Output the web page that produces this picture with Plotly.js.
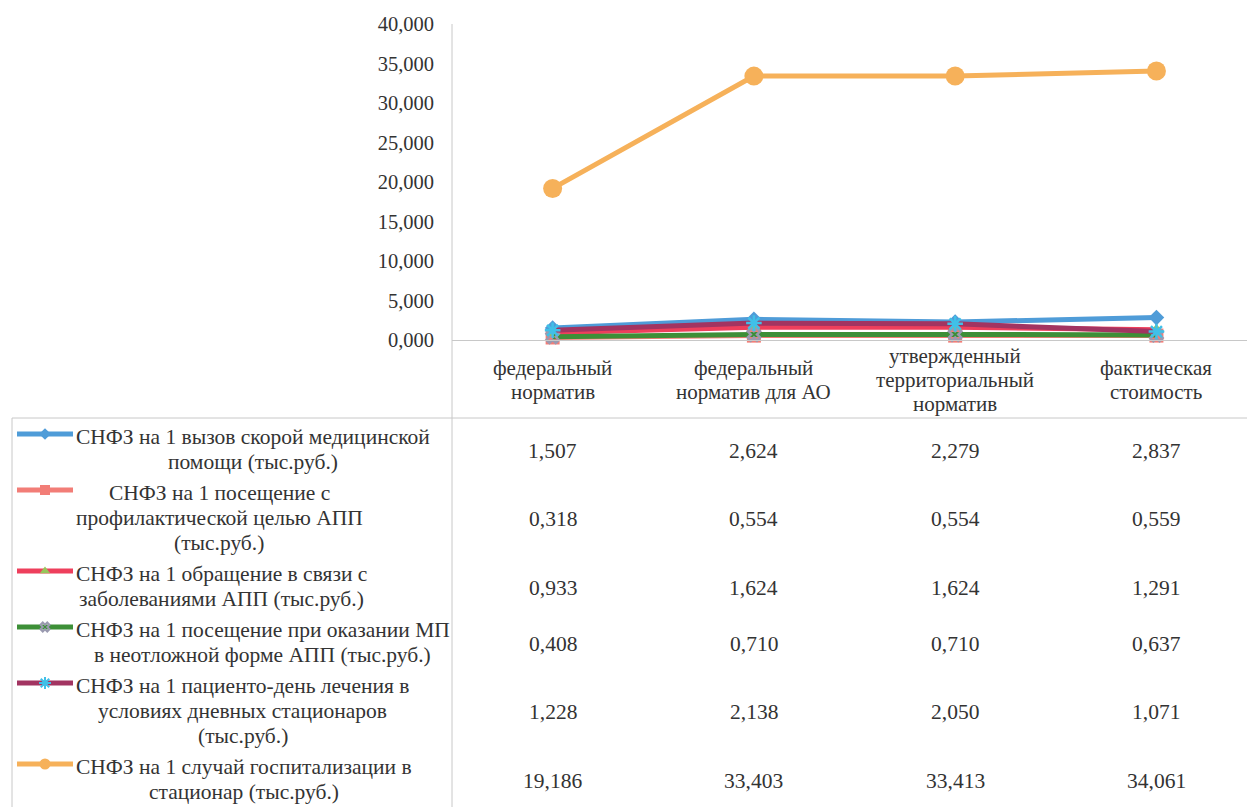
<!DOCTYPE html>
<html><head><meta charset="utf-8">
<script src="https://cdn.plot.ly/plotly-3.0.1.min.js"></script>
<style>html,body{margin:0;padding:0;background:#fff}</style>
</head><body><div id="chart" style="width:1247px;height:807px"></div>
<script>
// ---- data ----
const categories = ["федеральный<br>норматив", "федеральный<br>норматив для АО", "утвержденный<br>территориальный<br>норматив", "фактическая<br>стоимость"];
const seriesLabels = [
  "СНФЗ на 1 вызов скорой медицинской<br>помощи (тыс.руб.)",
  "СНФЗ на 1 посещение с<br>профилактической целью АПП<br>(тыс.руб.)",
  "СНФЗ на 1 обращение в связи с<br>заболеваниями АПП (тыс.руб.)",
  "СНФЗ на 1 посещение при оказании МП<br>в неотложной форме АПП (тыс.руб.)",
  "СНФЗ на 1 пациенто-день лечения в<br>условиях дневных стационаров<br>(тыс.руб.)",
  "СНФЗ на 1 случай госпитализации в<br>стационар (тыс.руб.)"
];
const ambulance   = [1.507, 2.624, 2.279, 2.837];
const preventive  = [0.318, 0.554, 0.554, 0.559];
const disease     = [0.933, 1.624, 1.624, 1.291];
const urgent      = [0.408, 0.710, 0.710, 0.637];
const dayHospital = [1.228, 2.138, 2.050, 1.071];
const hospital    = [19.186, 33.403, 33.413, 34.061];
const yTickValues = [0, 5, 10, 15, 20, 25, 30, 35, 40];

// ---- styles ----
const allSeries = [ambulance, preventive, disease, urgent, dayHospital, hospital];
const styles = [
  {line: "#4F9CD8", sym: "diamond", mcol: "#4F9CD8", size: 12, ksize: 9, open: false},
  {line: "#F27D77", sym: "square", mcol: "#F27D77", size: 14, ksize: 10, open: false},
  {line: "#EE3F5C", sym: "triangle-up", mcol: "#96C65A", size: 12, ksize: 9, open: false},
  {line: "#3D8F37", sym: "x-open", mcol: "#9A9AB0", size: 11, ksize: 8, open: true},
  {line: "#A23461", sym: "asterisk-open", mcol: "#40C0E8", size: 13, ksize: 10, open: true},
  {line: "#F6B15A", sym: "circle", mcol: "#F6B15A", size: 19, ksize: 11, open: false}
];
const FONT = "Liberation Serif";
const TXT = "#333333";
const GRID = "#C8C8C8";
const W = 1247, H = 807;
const plotLeft = 452, plotTop = 24, plotBottom = 340, tableTop = 418;
const lineStep = 25, rowPad = 6, firstCenter = 449.5;
const catCenter = 380, catStep = 24;
const LABEL_SIZE = 21.5, CAT_SIZE = 21, VAL_SIZE = 21.5, TICK_SIZE = 20.5;

function fmt(v) { return v.toFixed(3).replace(".", ","); }
const ctx = document.createElement("canvas").getContext("2d");
function textWidth(t, size) { ctx.font = size + "px '" + FONT + "'"; return ctx.measureText(t).width; }

const traces = [];
allSeries.forEach((vals, i) => {
  const s = styles[i];
  traces.push({
    type: "scatter", mode: "lines+markers", x: categories, y: vals,
    xaxis: "x", yaxis: "y", cliponaxis: false, showlegend: false, hoverinfo: "skip",
    line: {color: s.line, width: 5},
    marker: s.open ? {symbol: s.sym, size: s.size, color: s.mcol, line: {color: s.mcol, width: 2.5}}
                   : {symbol: s.sym, size: s.size, color: s.mcol, line: {width: 0}}
  });
});

const nLines = seriesLabels.map(t => t.split("<br>").length);
const centers = [];
nLines.forEach((n, i) => {
  if (i === 0) centers.push(firstCenter);
  else centers.push(centers[i - 1] + ((nLines[i - 1] * lineStep + rowPad) + (n * lineStep + rowPad)) / 2);
});

const annotations = [];
const shapes = [];
function txt(xref, x, y, text, size, xanchor) {
  annotations.push({xref: xref, yref: "y2", x: x, y: y, text: text, showarrow: false,
    xanchor: xanchor || "center", yanchor: "middle", font: {family: FONT, size: size, color: TXT}});
}
categories.forEach(c => {
  const parts = c.split("<br>");
  parts.forEach((p, k) => txt("x", c, catCenter + (k - (parts.length - 1) / 2) * catStep, p, CAT_SIZE));
});
seriesLabels.forEach((lab, i) => {
  const cy = centers[i];
  const parts = lab.split("<br>");
  const maxW = Math.max(...parts.map(p => textWidth(p, LABEL_SIZE)));
  const blockCenter = 76 + maxW / 2;
  parts.forEach((p, k) => txt("x2", blockCenter, cy + (k - (parts.length - 1) / 2) * lineStep, p, LABEL_SIZE));
  allSeries[i].forEach((v, j) => txt("x", categories[j], cy + 1, fmt(v), VAL_SIZE));
  const ky = cy - (nLines[i] - 1) * lineStep / 2 - 3;
  shapes.push({type: "line", xref: "x2", yref: "y2", x0: 17, x1: 73, y0: ky, y1: ky, layer: "below",
    line: {color: styles[i].line, width: 5}});
  const s = styles[i];
  traces.push({type: "scatter", mode: "markers", x: [45], y: [ky], xaxis: "x2", yaxis: "y2",
    cliponaxis: false, showlegend: false, hoverinfo: "skip",
    marker: s.open ? {symbol: s.sym, size: s.ksize, color: s.mcol, line: {color: s.mcol, width: 2}}
                   : {symbol: s.sym, size: s.ksize, color: s.mcol, line: {width: 0}}});
});
shapes.push({type: "line", xref: "x2", yref: "y2", x0: plotLeft, x1: plotLeft, y0: plotTop, y1: H, line: {color: GRID, width: 1}});
shapes.push({type: "line", xref: "x2", yref: "y2", x0: 12, x1: W, y0: tableTop, y1: tableTop, line: {color: GRID, width: 1}});
shapes.push({type: "line", xref: "x2", yref: "y2", x0: 12, x1: 12, y0: tableTop, y1: H, line: {color: GRID, width: 1}});

const layout = {
  width: W, height: H,
  margin: {l: 0, r: 0, t: 0, b: 0},
  paper_bgcolor: "#ffffff", plot_bgcolor: "rgba(0,0,0,0)",
  separators: ", ",
  showlegend: false,
  font: {family: FONT, size: 19, color: TXT},
  xaxis: {domain: [plotLeft / W, 1], range: [-0.5, 3.45], type: "category",
    showticklabels: false, ticks: "", showgrid: false, zeroline: false,
    showline: true, linecolor: GRID, linewidth: 1, fixedrange: true, anchor: "y"},
  yaxis: {domain: [(H - plotBottom) / H, (H - plotTop) / H], range: [0, 40],
    tickvals: yTickValues, tickformat: ".3f", ticks: "", ticklabelstandoff: 17,
    showgrid: false, zeroline: false, showline: false, automargin: false,
    tickfont: {family: FONT, size: TICK_SIZE, color: TXT}, fixedrange: true, anchor: "x"},
  xaxis2: {domain: [0, 1], range: [0, W], visible: false, anchor: "y2", fixedrange: true},
  yaxis2: {domain: [0, 1], range: [H, 0], visible: false, anchor: "x2", fixedrange: true},
  annotations: annotations,
  shapes: shapes
};
Plotly.newPlot("chart", traces, layout, {displayModeBar: false, staticPlot: true});
</script></body></html>
